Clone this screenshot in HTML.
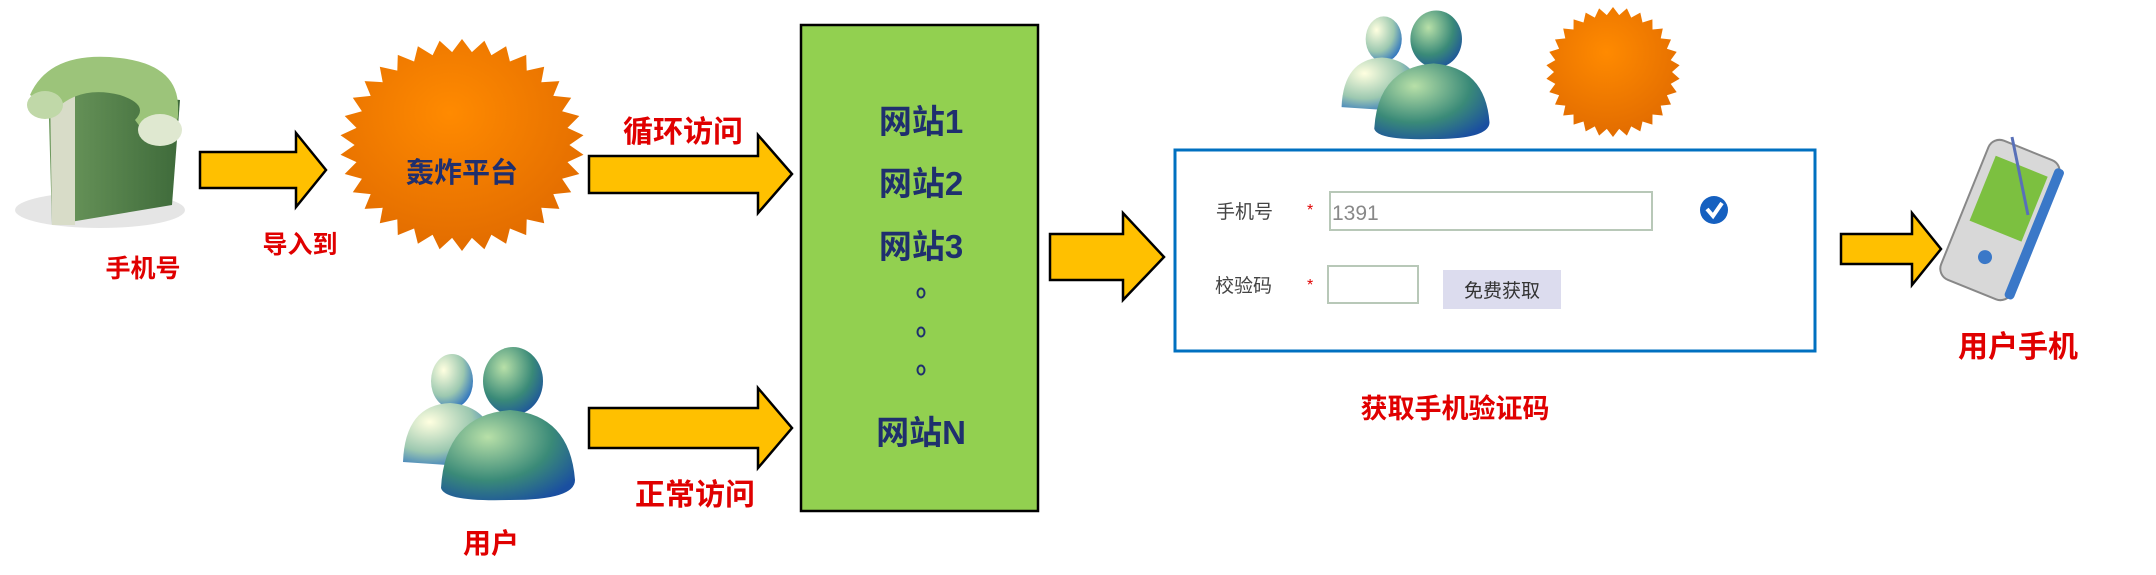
<!DOCTYPE html>
<html><head><meta charset="utf-8"><style>
html,body{margin:0;padding:0;background:#fff;}
svg{display:block}
text{font-family:"Liberation Sans","Noto Sans CJK SC",sans-serif;}
</style></head><body>
<svg id="s" width="2156" height="575" viewBox="0 0 2156 575" xmlns="http://www.w3.org/2000/svg">
<defs>
<radialGradient id="og" cx="0.45" cy="0.35" r="0.7"><stop offset="0" stop-color="#ff8a00"/><stop offset="1" stop-color="#e06a00"/></radialGradient>
<radialGradient id="hg1" cx="0.35" cy="0.3" r="0.8"><stop offset="0" stop-color="#b8e0a8"/><stop offset="0.6" stop-color="#3a8a78"/><stop offset="1" stop-color="#1a4fa0"/></radialGradient>
<radialGradient id="hg2" cx="0.3" cy="0.3" r="0.8"><stop offset="0" stop-color="#ffffe0"/><stop offset="0.6" stop-color="#9cc8b0"/><stop offset="1" stop-color="#2a70c0"/></radialGradient>
<linearGradient id="fg" x1="0" y1="0" x2="1" y2="0"><stop offset="0" stop-color="#6e9a5e"/><stop offset="1" stop-color="#3e6a3a"/></linearGradient>
<g id="users">
<ellipse cx="452" cy="381" rx="21" ry="27" fill="url(#hg2)"/>
<path d="M403,462 Q405,405 450,403 Q480,405 492,430 L462,466 Z" fill="url(#hg2)"/>
<ellipse cx="513" cy="381" rx="30" ry="34" fill="url(#hg1)"/>
<path d="M441,488 Q445,415 510,410 Q570,415 575,480 Q575,500 510,500 Q445,502 441,488 Z" fill="url(#hg1)"/>
</g>
</defs>

<!-- phone folder icon -->
<ellipse cx="100" cy="210" rx="85" ry="18" fill="#ccc" opacity="0.5"/>
<polygon points="48,85 180,100 172,205 52,225" fill="url(#fg)"/>
<polygon points="50,85 75,95 75,225 52,225" fill="#d8dcc8"/>
<path d="M30,95 Q50,50 120,58 Q180,65 178,110 Q180,135 150,140 L135,120 Q150,105 120,95 Q80,85 55,110 Z" fill="#9cc47a"/>
<ellipse cx="45" cy="105" rx="18" ry="14" fill="#c0d8a8"/>
<ellipse cx="160" cy="130" rx="22" ry="16" fill="#dfe8d0"/>
<text x="143" y="277" font-size="25" font-weight="bold" fill="#e00000" text-anchor="middle">手机号</text>

<!-- arrows -->
<g fill="#ffc000" stroke="#000" stroke-width="2.5">
<polygon points="200,152 296,152 296,133 326,170 296,207 296,188 200,188"/>
<polygon points="589,156 758,156 758,135 792,174 758,213 758,193 589,193"/>
<polygon points="589,408 758,408 758,388 792,428 758,468 758,448 589,448"/>
<polygon points="1050,234 1123,234 1123,213 1164,257 1123,300 1123,280 1050,280"/>
<polygon points="1841,234 1912,234 1912,213 1941,249 1912,285 1912,264 1841,264"/>
</g>
<text x="300" y="253" font-size="25" font-weight="bold" fill="#e00000" text-anchor="middle">导入到</text>
<text x="683" y="142" font-size="30" font-weight="bold" fill="#e00000" text-anchor="middle">循环访问</text>
<text x="695" y="505" font-size="30" font-weight="bold" fill="#e00000" text-anchor="middle">正常访问</text>

<!-- starbursts -->
<polygon id="st1" fill="url(#og)"/>
<polygon id="st2" fill="url(#og)"/>
<text x="462" y="182" font-size="28" font-weight="bold" fill="#1f2f6e" text-anchor="middle">轰炸平台</text>

<!-- green box -->
<rect x="801" y="25" width="237" height="486" fill="#92d050" stroke="#000" stroke-width="2.5"/>
<g font-size="33" font-weight="bold" fill="#1f2f6e" text-anchor="middle">
<text x="921" y="133">网站1</text>
<text x="921" y="195">网站2</text>
<text x="921" y="258">网站3</text>
<text x="921" y="444">网站N</text>
</g>
<g fill="none" stroke="#1f2f6e" stroke-width="2">
<ellipse cx="921" cy="293" rx="3.5" ry="4.5"/>
<ellipse cx="921" cy="332" rx="3.5" ry="4.5"/>
<ellipse cx="921" cy="370" rx="3.5" ry="4.5"/>
</g>

<!-- users icons -->
<use href="#users"/>
<use href="#users" transform="translate(995,-281) scale(0.86,0.84)"/>
<text x="491" y="553" font-size="28" font-weight="bold" fill="#e00000" text-anchor="middle">用户</text>

<!-- form box -->
<rect x="1175" y="150" width="640" height="201" fill="#fff" stroke="#0070c0" stroke-width="3"/>
<g font-size="19" fill="#444">
<text x="1216" y="218">手机号</text>
<text x="1215" y="292">校验码</text>
</g>
<text x="1307" y="215" font-size="16" fill="#e00000">*</text>
<text x="1307" y="290" font-size="16" fill="#e00000">*</text>
<rect x="1330" y="192" width="322" height="38" fill="#fff" stroke="#b8c8b8" stroke-width="2"/>
<text x="1332" y="220" fill="#888" font-size="21" font-family="Liberation Serif,serif">1391</text>
<rect x="1328" y="266" width="90" height="37" fill="#fff" stroke="#b8c8b8" stroke-width="2"/>
<rect x="1443" y="270" width="118" height="39" fill="#dcdcee"/>
<text x="1502" y="297" font-size="19" fill="#333" text-anchor="middle">免费获取</text>
<circle cx="1714" cy="210" r="14" fill="#1560c0"/>
<path d="M1707,209 L1713,216 L1722,203" stroke="#fff" stroke-width="4" fill="none"/>
<text x="1455" y="418" font-size="27" font-weight="bold" fill="#e00000" text-anchor="middle">获取手机验证码</text>

<!-- mobile phone -->
<g transform="translate(2000,220) rotate(22)">
<rect x="-38" y="-75" width="76" height="150" rx="12" fill="#d8d8d8" stroke="#888" stroke-width="2"/>
<rect x="32" y="-70" width="10" height="140" rx="4" fill="#3a78c8"/>
<rect x="-28" y="-58" width="56" height="70" fill="#7cc040"/>
<circle cx="0" cy="40" r="7" fill="#3a78c8"/>
</g>
<line x1="2012" y1="137" x2="2028" y2="215" stroke="#5870b8" stroke-width="3"/>
<text x="2018" y="357" font-size="30" font-weight="bold" fill="#e00000" text-anchor="middle">用户手机</text>
</svg>
<script>
function star(id,cx,cy,rx,ry,n,d){var p=[];for(var i=0;i<2*n;i++){var a=Math.PI*i/n-Math.PI/2;var k=i%2?1-d:1;p.push((cx+rx*k*Math.cos(a)).toFixed(1)+","+(cy+ry*k*Math.sin(a)).toFixed(1));}document.getElementById(id).setAttribute("points",p.join(" "));}
star("st1",462,145,122,106,34,0.12);
star("st2",1613,72,67,65,30,0.12);
</script>
</body></html>
